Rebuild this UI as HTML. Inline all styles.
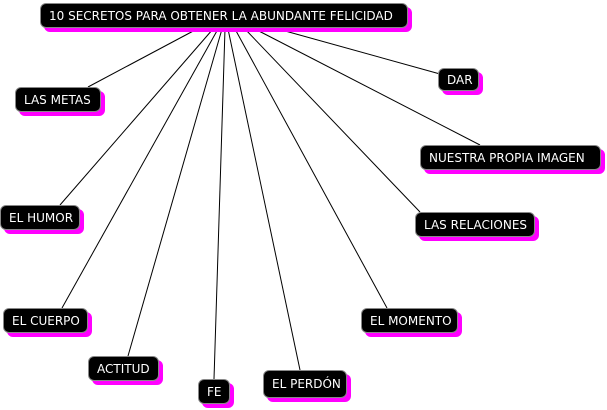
<!DOCTYPE html>
<html><head><meta charset="utf-8"><style>
body{margin:0;width:607px;height:410px;background:#fff;position:relative;overflow:hidden;font-family:"DejaVu Sans","Liberation Sans",sans-serif;}
.n{position:absolute;background:#000;color:#fff;border-radius:6px;box-shadow:4px 4px 0 #f0f;font-size:12px;display:flex;align-items:center;justify-content:flex-start;padding-left:8px;white-space:nowrap;border:1px solid #888;box-sizing:border-box}
svg{position:absolute;left:0;top:0}
</style></head><body>
<svg width="607" height="410"><g stroke="#000" stroke-width="1">
<line x1="197" y1="29" x2="88" y2="87"/>
<line x1="213" y1="29" x2="60" y2="205"/>
<line x1="218" y1="29" x2="62" y2="308"/>
<line x1="222" y1="29" x2="128" y2="356"/>
<line x1="225" y1="29" x2="214" y2="379"/>
<line x1="228" y1="29" x2="300" y2="370"/>
<line x1="235" y1="29" x2="387" y2="308"/>
<line x1="245" y1="29" x2="420" y2="212"/>
<line x1="255" y1="29" x2="480" y2="145"/>
<line x1="278" y1="29" x2="440" y2="74"/>
</g></svg>
<div class="n" style="left:40px;top:3px;width:368px;height:25px">10 SECRETOS PARA OBTENER LA ABUNDANTE FELICIDAD</div>
<div class="n" style="left:15px;top:87px;width:86px;height:25px">LAS METAS</div>
<div class="n" style="left:438px;top:68px;width:41px;height:23px">DAR</div>
<div class="n" style="left:420px;top:145px;width:181px;height:25px">NUESTRA PROPIA IMAGEN</div>
<div class="n" style="left:0px;top:205px;width:80px;height:25px">EL HUMOR</div>
<div class="n" style="left:415px;top:212px;width:120px;height:25px">LAS RELACIONES</div>
<div class="n" style="left:3px;top:308px;width:85px;height:25px">EL CUERPO</div>
<div class="n" style="left:361px;top:308px;width:97px;height:25px">EL MOMENTO</div>
<div class="n" style="left:88px;top:356px;width:71px;height:25px">ACTITUD</div>
<div class="n" style="left:198px;top:379px;width:32px;height:25px">FE</div>
<div class="n" style="left:263px;top:370px;width:84px;height:28px">EL PERDÓN</div>
</body></html>
